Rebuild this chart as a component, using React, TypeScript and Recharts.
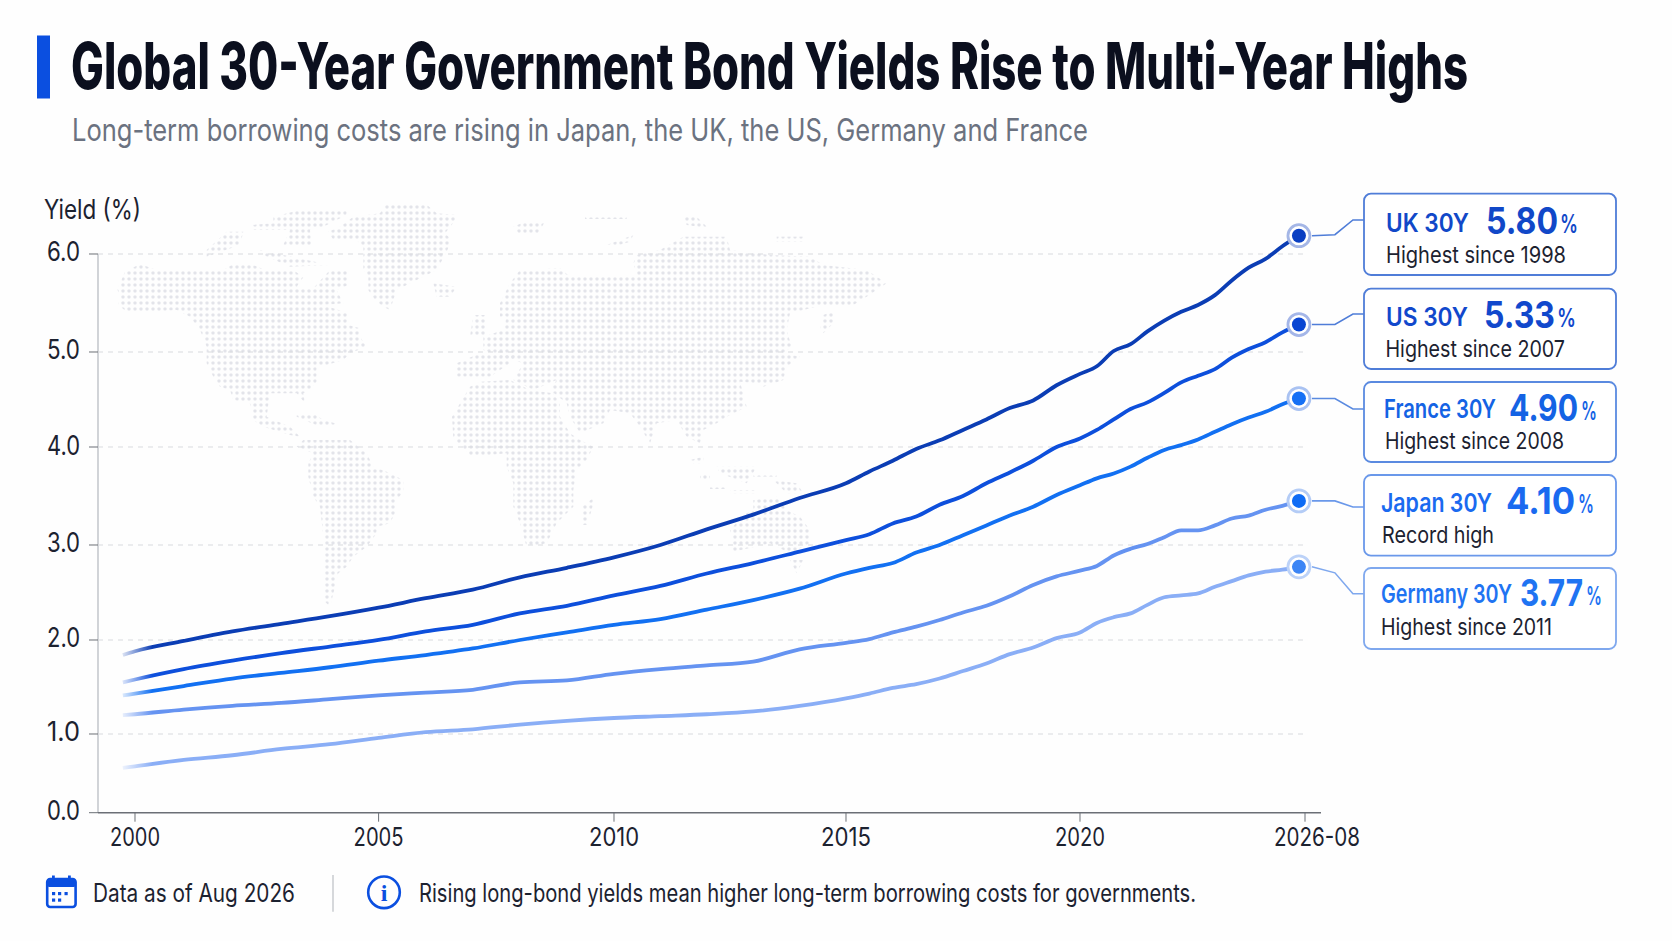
import React from "react";
import { LineChart, Line, XAxis, YAxis, ReferenceLine } from "recharts";

const years = [
  1999.75, 2000, 2001, 2002, 2003, 2004, 2005, 2006, 2007, 2008, 2009, 2010, 2011, 2012, 2013, 2014, 2015,
  2015.5, 2016, 2016.5, 2017, 2017.5, 2018, 2018.5, 2019, 2019.5, 2020, 2020.5, 2021, 2021.5, 2022, 2022.5,
  2023, 2023.5, 2024, 2024.5, 2025, 2025.5, 2026, 2026.49,
];
const uk = [
  1.84, 1.88, 1.99, 2.09, 2.17, 2.25, 2.34, 2.44, 2.53, 2.66, 2.76, 2.87, 3.0, 3.16, 3.31, 3.48, 3.63,
  3.75, 3.86, 3.98, 4.07, 4.18, 4.29, 4.41, 4.49, 4.65, 4.77, 4.85, 5.01, 5.08, 5.21, 5.32,
  5.41, 5.48, 5.58, 5.73, 5.86, 5.95, 6.08, 6.19,
];
const us = [
  1.55, 1.58, 1.69, 1.78, 1.86, 1.93, 2.0, 2.09, 2.16, 2.28, 2.36, 2.47, 2.57, 2.7, 2.81, 2.93, 3.05,
  3.11, 3.22, 3.29, 3.41, 3.5, 3.63, 3.74, 3.86, 4.0, 4.09, 4.18, 4.29, 4.4, 4.47, 4.57,
  4.68, 4.75, 4.82, 4.94, 5.03, 5.1, 5.2, 5.28,
];
const france = [
  1.41, 1.43, 1.51, 1.59, 1.65, 1.71, 1.78, 1.84, 1.91, 2.0, 2.08, 2.16, 2.22, 2.32, 2.42, 2.54, 2.7,
  2.76, 2.81, 2.92, 3.0, 3.1, 3.2, 3.3, 3.39, 3.51, 3.61, 3.68, 3.73, 3.8, 3.89, 3.97,
  4.02, 4.08, 4.16, 4.24, 4.31, 4.37, 4.45, 4.51,
];
const japan = [
  1.2, 1.21, 1.26, 1.3, 1.33, 1.37, 1.41, 1.44, 1.47, 1.55, 1.57, 1.64, 1.69, 1.73, 1.77, 1.9, 1.97,
  2.01, 2.08, 2.14, 2.21, 2.29, 2.36, 2.46, 2.58, 2.67, 2.73, 2.78, 2.89, 2.96, 3.01, 3.08,
  3.15, 3.15, 3.2, 3.27, 3.3, 3.36, 3.4, 3.45,
];
const germany = [
  0.57, 0.59, 0.67, 0.73, 0.81, 0.87, 0.95, 1.02, 1.05, 1.1, 1.14, 1.17, 1.19, 1.21, 1.24, 1.3, 1.38,
  1.43, 1.49, 1.53, 1.59, 1.67, 1.75, 1.85, 1.92, 2.02, 2.08, 2.18, 2.24, 2.28, 2.37, 2.45,
  2.47, 2.49, 2.56, 2.62, 2.68, 2.72, 2.74, 2.77,
];

const yTicks = [0, 1, 2, 3, 4, 5, 6];
const xTicks = [2000, 2005, 2010, 2015, 2020, 2026.67];
const xTickLabels = ["2000", "2005", "2010", "2015", "2020", "2026-08"];

const seriesKeys = ["uk", "us", "france", "japan", "germany"];
const calloutNames = ["UK 30Y", "US 30Y", "France 30Y", "Japan 30Y", "Germany 30Y"];
const calloutValues = ["5.80", "5.33", "4.90", "4.10", "3.77"];
const calloutNotes = ["Highest since 1998", "Highest since 2007", "Highest since 2008", "Record high", "Highest since 2011"];

const rows = years.map((year, i) => ({
  year,
  uk: uk[i],
  us: us[i],
  france: france[i],
  japan: japan[i],
  germany: germany[i],
}));

const FONT = "Inter, 'Noto Sans', sans-serif";
const BLUE = "#0b4fe0";
const lineColors = ["#0b3db4", "#0d4fdc", "#1270f2", "#6593f1", "#8aaef6"];
const dotColors = ["#0a3fc2", "#0a46d2", "#1570f5", "#0f6cf5", "#3c85f5"];
const ringColors = ["#a4b6e6", "#a4b6e8", "#a9c2f2", "#b4ccf6", "#bcd2f8"];
const labelColors = ["#1148c8", "#1148cc", "#1463e4", "#1a6af0", "#1f74f2"];
const boxStrokes = ["#4f7dd8", "#4f7dd8", "#5a8ae0", "#6a98ea", "#7fa8ee"];

// the axes in the picture are not evenly spaced, so each axis gets knots
function knotScale(knots: number[], stops: number[], rng: number[] = [0, 1]) {
  let dom = [knots[0], knots[knots.length - 1]];
  let out = rng;
  const s: any = (v: number) => {
    let i = 0;
    while (i < knots.length - 2 && v > knots[i + 1]) i++;
    const t = stops[i] + ((v - knots[i]) / (knots[i + 1] - knots[i])) * (stops[i + 1] - stops[i]);
    return out[0] + (out[1] - out[0]) * t;
  };
  s.domain = (d?: number[]) => {
    if (!d) return dom;
    dom = d;
    return s;
  };
  s.range = (r?: number[]) => {
    if (!r) return out;
    out = r;
    return s;
  };
  s.copy = () => knotScale(knots, stops, out);
  s.ticks = () => knots;
  return s;
}

const X_MIN = 1999.24;
const X_MAX = 2027.14;
const Y_MAX = 6.56;
const xScale = knotScale(
  [X_MIN, 2000, 2005, 2010, 2015, 2020, 2026.67, X_MAX],
  [0, 0.03025, 0.22944, 0.42191, 0.61161, 0.80294, 0.98692, 1]
);
const yScale = knotScale([0, 1, 2, 3, 4, 5, 6, Y_MAX], [0, 0.12845, 0.28187, 0.43692, 0.59686, 0.75192, 0.91187, 1]);

// [left, top, right, bottom, label x, label end, value x, value end, pct x, pct end, note x, note end, label base, value base, note base]
const boxLayout = [
  [1364, 193.7, 1616, 275, 1386, 1469, 1486, 1558, 1560, 1578, 1386, 1566, 231.7, 234, 262.7],
  [1364, 288.7, 1616, 369, 1386, 1468, 1484, 1555, 1557, 1576, 1385.5, 1565, 325.7, 327.7, 356.7],
  [1364, 382, 1616, 462, 1384, 1496, 1509, 1578, 1581, 1597, 1385, 1564, 418, 420.7, 449],
  [1364, 475, 1616, 555.7, 1381, 1492, 1506, 1575, 1578, 1594, 1382, 1494, 511.7, 514.3, 542.7],
  [1364, 568, 1616, 649, 1381, 1512, 1520, 1583, 1586, 1602, 1381, 1552, 603, 606, 635],
];
const leaderEndY = [220, 314, 409, 507, 593.7];
const leaderDrop = [-1, 0, 0, 0, 6];

const westMap = [
  [82,298,105,245,150,222,200,240,330,240,400,240,430,222,490,225,520,238,610,240,640,262,620,290,670,295,720,240,770,240,775,285,740,300,760,340,700,345,775,370,775,405,810,415,810,440,830,470,780,490,760,510,710,525,680,530,680,575,660,600,640,610,645,640,620,610,540,610,530,680,600,710,630,740,600,735,520,710,490,690,480,640,430,630,420,600,390,590,370,560,350,520,350,470,330,420,300,380,260,360,190,365,110,365,85,345,90,320],
  [890,40,1005,40,1040,70,1105,75,1085,105,1065,130,1085,150,1070,185,1040,240,980,270,920,300,900,360,880,350,855,330,835,300,835,260,820,240,820,170,800,150,730,150,715,125,750,110,790,80,870,70],
  [550,100,550,80,630,60,770,60,770,75,700,110,660,120,665,165,580,165,600,120,485,120,485,105],
  [350,180,410,125,460,125,450,165,350,200],
  [510,180,720,225,600,230,520,195],
  [620,670,670,670,700,690,735,700,735,710,690,710,620,680],
  [1030,280,1100,290,1080,320,1040,320],
  [620,770,640,750,780,750,830,790,850,830,890,845,940,870,940,905,920,930,920,960,900,1000,860,1010,860,1030,830,1070,790,1100,770,1130,745,1150,735,1190,720,1250,700,1230,700,1040,690,950,670,920,655,860,655,820,670,790],
];
const eastMap = [
  [90,340,120,280,150,240,270,235,300,260,360,255,500,255,490,220,500,195,570,180,640,140,770,140,780,180,900,195,1020,200,1060,225,1190,240,1250,280,1190,320,1150,345,1040,350,960,370,950,420,965,470,940,490,990,500,950,530,940,570,880,590,860,580,810,575,830,650,770,680,740,700,700,720,690,760,650,740,620,690,560,700,540,760,510,710,480,670,420,660,400,700,330,730,300,680,290,640,240,600,260,570,190,600,130,570,160,520,40,480,40,440,100,420,110,380,90,380],
  [-54,680,0,590,30,575,120,570,180,600,250,610,270,640,270,680,300,730,330,750,370,770,350,810,320,840,310,900,310,950,260,1000,230,1060,170,1070,150,1000,130,950,130,880,110,830,110,790,60,795,0,795,-50,745],
  [10,375,50,375,50,440,0,440],
  [-40,520,30,490,140,490,120,520,60,560,-40,560],
  [335,950,375,920,365,960,350,1005,335,1005],
  [1060,375,1095,360,1090,400,1060,430,1050,420],
  [130,110,165,95,225,95,200,135,150,135],
  [345,75,470,75,470,87,345,87],
  [635,75,680,80,715,115,650,105],
  [410,165,490,135,480,155,430,170],
  [920,140,1000,140,1000,155,920,155],
  [660,810,700,800,700,820,670,820],
  [690,850,720,850,720,870,690,870],
  [740,830,860,830,830,880,750,850],
  [720,885,770,885,770,897,720,897],
  [850,850,920,850,920,860,850,860],
  [780,900,860,900,860,910,780,910],
  [910,870,980,880,1000,910,950,910],
  [850,930,920,920,950,960,990,980,1020,1020,1020,1060,960,1090,900,1060,790,1085,780,1020,820,975,850,960],
  [960,1110,1000,1110,980,1150],
];

const toPoints = (list: number[], ox: number, oy: number) => {
  const out: string[] = [];
  for (let i = 0; i < list.length; i += 2) out.push(`${ox + list[i] / 3},${oy + list[i + 1] / 3}`);
  return out.join(" ");
};

// the type in the picture is tall and narrow: smaller font stretched upward, fitted to the measured width
function Fit({ x, end, y, size, weight = 400, fill = "#1c2230", squeeze = 0.78, children }: any) {
  return (
    <text
      transform={`translate(${x} ${y}) scale(1 ${1 / squeeze})`}
      fontSize={size * squeeze}
      fontWeight={weight}
      fill={fill}
      fontFamily={FONT}
      textLength={end - x}
      lengthAdjust="spacingAndGlyphs"
    >
      {children}
    </text>
  );
}

function XTick({ x, y, payload }: any) {
  const i = xTicks.indexOf(payload.value);
  const last = i === xTicks.length - 1;
  const w = last ? 86 : 50;
  const cx = last ? x + 12 : x;
  return (
    <Fit x={cx - w / 2} end={cx + w / 2} y={y + 22} size={26} fill="#1c2230">
      {xTickLabels[i]}
    </Fit>
  );
}

function YTick({ x, y, payload }: any) {
  return (
    <Fit x={x - 40} end={x - 7} y={y + 7.5} size={27} fill="#1c2230">
      {payload.value.toFixed(1)}
    </Fit>
  );
}

function endDot(i: number) {
  return (props: any) => {
    const { cx, cy, index } = props;
    if (index !== years.length - 1) return <g key={index} />;
    const path = `M${cx + 13} ${cy} L${cx + 36} ${cy + leaderDrop[i]} L${cx + 54} ${leaderEndY[i]} L${cx + 65} ${leaderEndY[i]}`;
    return (
      <g key={index}>
        <path d={path} fill="none" stroke={boxStrokes[i]} strokeWidth={1.6} />
        <circle cx={cx} cy={cy} r={11} fill="#fff" stroke={ringColors[i]} strokeWidth={2.8} />
        <circle cx={cx} cy={cy} r={7} fill={dotColors[i]} />
      </g>
    );
  };
}

function CalendarIcon() {
  return (
    <g>
      <rect x={47.2} y={879} width={28.4} height={28} rx={3} fill="none" stroke={BLUE} strokeWidth={2.6} />
      <rect x={47.2} y={879} width={28.4} height={8} rx={2} fill={BLUE} />
      <rect x={52} y={875.5} width={2.8} height={6} fill={BLUE} />
      <rect x={68} y={875.5} width={2.8} height={6} fill={BLUE} />
      {[[53.5, 893.5], [59.5, 893.5], [66, 893.5], [53.5, 900], [59.5, 900]].map(([cx, cy]) => (
        <rect key={`${cx}-${cy}`} x={cx - 1.5} y={cy - 1.5} width={3.2} height={3.2} fill={BLUE} />
      ))}
    </g>
  );
}

export default function App() {
  return (
    <div style={{ position: "absolute", left: 0, top: 0, width: 1672, height: 941, background: "#fefefe", overflow: "hidden" }}>
      <svg width={1672} height={941} style={{ position: "absolute", left: 0, top: 0 }}>
        <defs>
          <pattern id="mapDots" x={0} y={0} width={6} height={6} patternUnits="userSpaceOnUse">
            <rect x={1.5} y={1.5} width={3} height={3} rx={0.8} fill="#e3e4ea" />
          </pattern>
        </defs>
        {westMap.map((p, i) => (
          <polygon key={`w${i}`} points={toPoints(p, 90, 190)} fill="url(#mapDots)" />
        ))}
        {eastMap.map((p, i) => (
          <polygon key={`e${i}`} points={toPoints(p, 470, 190)} fill="url(#mapDots)" />
        ))}
      </svg>

      <div style={{ position: "absolute", left: 0, top: 0 }}>
        <LineChart width={1672} height={941} data={rows} margin={{ top: 200, right: 351, bottom: 0, left: 0 }}>
          <defs>
            {seriesKeys.map((key, i) => (
              <linearGradient key={key} id={`fade-${key}`} x1="0" y1="0" x2="1" y2="0">
                <stop offset="0" stopColor={lineColors[i]} stopOpacity={0.15} />
                <stop offset="0.025" stopColor={lineColors[i]} stopOpacity={1} />
              </linearGradient>
            ))}
          </defs>
          <XAxis
            dataKey="year"
            type="number"
            scale={xScale}
            domain={[X_MIN, X_MAX]}
            ticks={xTicks}
            interval={0}
            height={128.3}
            tickSize={9}
            tick={XTick}
            tickLine={{ stroke: "#6b6f76" }}
            axisLine={{ stroke: "#6b6f76", strokeWidth: 1.6 }}
          />
          <YAxis
            type="number"
            scale={yScale}
            domain={[0, Y_MAX]}
            ticks={yTicks}
            interval={0}
            width={98}
            tickSize={9}
            tick={YTick}
            tickLine={{ stroke: "#6b6f76" }}
            axisLine={false}
          />
          <ReferenceLine
            segment={[{ x: X_MIN, y: 0 }, { x: X_MIN, y: 6 }]}
            stroke="#c6c9ce"
            strokeWidth={1.6}
          />
          {yTicks.slice(1).map((t) => (
            <ReferenceLine
              key={t}
              segment={[{ x: X_MIN, y: t }, { x: 2026.67, y: t }]}
              stroke="#d9dbdf"
              strokeDasharray="5 5"
            />
          ))}
          {seriesKeys.map((key, i) => (
            <Line
              key={key}
              dataKey={key}
              type="monotone"
              stroke={`url(#fade-${key})`}
              strokeWidth={3.8}
              dot={endDot(i)}
              activeDot={false}
              isAnimationActive={false}
            />
          ))}
        </LineChart>
      </div>

      <svg width={1672} height={941} style={{ position: "absolute", left: 0, top: 0, pointerEvents: "none" }}>
        <rect x={37} y={35.5} width={13} height={63} fill={BLUE} />
        <Fit x={71} end={1468} y={89} size={64} weight={800} fill="#0b0f1e" squeeze={0.66}>
          Global 30-Year Government Bond Yields Rise to Multi-Year Highs
        </Fit>
        <Fit x={72} end={1088} y={141} size={31} fill="#6b7280">
          Long-term borrowing costs are rising in Japan, the UK, the US, Germany and France
        </Fit>
        <Fit x={44} end={141} y={219} size={27}>
          Yield (%)
        </Fit>

        {boxLayout.map((b, i) => (
          <g key={calloutNames[i]}>
            <rect x={b[0]} y={b[1]} width={b[2] - b[0]} height={b[3] - b[1]} rx={7} fill="#fff" stroke={boxStrokes[i]} strokeWidth={1.8} />
            <Fit x={b[4]} end={b[5]} y={b[12]} size={26} weight={600} fill={labelColors[i]}>
              {calloutNames[i]}
            </Fit>
            <Fit x={b[6]} end={b[7]} y={b[13]} size={37} weight={700} fill={labelColors[i]}>
              {calloutValues[i]}
            </Fit>
            <Fit x={b[8]} end={b[9]} y={b[13] - 1} size={26} weight={600} fill={labelColors[i]}>
              %
            </Fit>
            <Fit x={b[10]} end={b[11]} y={b[14]} size={23}>
              {calloutNotes[i]}
            </Fit>
          </g>
        ))}

        <CalendarIcon />
        <Fit x={93} end={295} y={901.7} size={25}>
          Data as of Aug 2026
        </Fit>
        <line x1={333} x2={333} y1={875} y2={911.7} stroke="#c5c8cc" strokeWidth={1.4} />
        <circle cx={384} cy={892.3} r={15.8} fill="none" stroke={BLUE} strokeWidth={2.6} />
        <text x={384} y={901} textAnchor="middle" fontSize={24} fontWeight={700} fill={BLUE} fontFamily="'Liberation Serif', serif">
          i
        </text>
        <Fit x={419} end={1196} y={901.7} size={25}>
          Rising long-bond yields mean higher long-term borrowing costs for governments.
        </Fit>
      </svg>
    </div>
  );
}
